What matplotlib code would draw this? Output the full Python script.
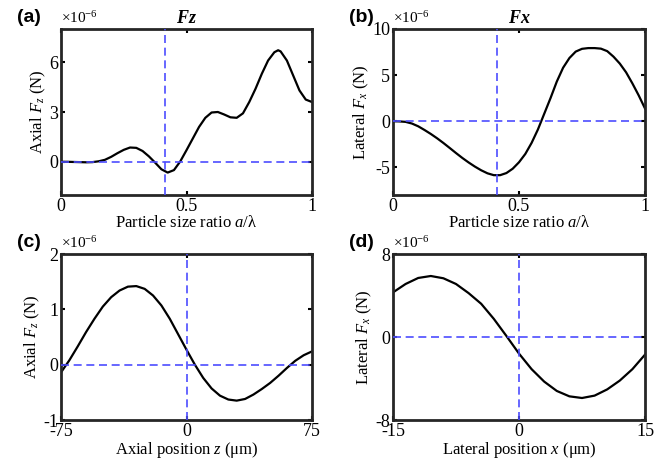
import matplotlib
matplotlib.use('Agg')
import matplotlib.pyplot as plt

plt.rcParams['font.family'] = ['Liberation Serif', 'DejaVu Serif']
plt.rcParams['mathtext.fontset'] = 'custom'
plt.rcParams['mathtext.rm'] = 'Liberation Serif'
plt.rcParams['mathtext.it'] = 'Liberation Serif:italic'
plt.rcParams['mathtext.bf'] = 'Liberation Serif:bold:italic'
plt.rcParams['axes.unicode_minus'] = False

# (a) axial force vs size ratio, units of 1e-6 N
a_ratio = [0, 0.025, 0.05, 0.075, 0.1, 0.125, 0.15, 0.175, 0.2, 0.225, 0.25, 0.275,
           0.3, 0.325, 0.35, 0.375, 0.4, 0.425, 0.45, 0.475, 0.5, 0.525, 0.55, 0.575,
           0.6, 0.625, 0.65, 0.675, 0.7, 0.725, 0.75, 0.775, 0.8, 0.825, 0.85, 0.865,
           0.875, 0.9, 0.925, 0.95, 0.975, 1.0]
a_fz = [0, 0, -0.01, -0.02, -0.03, -0.02, 0.03, 0.12, 0.3, 0.52, 0.72, 0.86,
        0.84, 0.65, 0.33, -0.05, -0.45, -0.65, -0.5, 0.02, 0.7, 1.4, 2.1, 2.65,
        2.97, 3.0, 2.85, 2.68, 2.65, 2.92, 3.6, 4.4, 5.3, 6.1, 6.6, 6.72,
        6.65, 6.1, 5.2, 4.3, 3.75, 3.6]

# (b) lateral force vs size ratio
b_ratio = [0, 0.025, 0.05, 0.075, 0.1, 0.125, 0.15, 0.175, 0.2, 0.225, 0.25, 0.275,
           0.3, 0.325, 0.35, 0.375, 0.4, 0.425, 0.45, 0.475, 0.5, 0.525, 0.55, 0.575,
           0.6, 0.625, 0.65, 0.675, 0.7, 0.725, 0.75, 0.775, 0.8, 0.825, 0.85, 0.875,
           0.9, 0.925, 0.95, 0.975, 1.0]
b_fx = [0, -0.02, -0.07, -0.25, -0.55, -0.95, -1.38, -1.85, -2.36, -2.9, -3.45, -3.98,
        -4.47, -4.92, -5.32, -5.65, -5.85, -5.85, -5.62, -5.15, -4.45, -3.55, -2.35, -0.9,
        0.8, 2.5, 4.3, 5.8, 6.85, 7.55, 7.85, 7.93, 7.93, 7.87, 7.6, 7.0,
        6.25, 5.3, 4.1, 2.8, 1.38]

# (c) axial force vs axial position (um)
c_z = [-75, -70, -65, -60, -55, -50, -45, -40, -35, -30, -25, -20, -15, -10, -5, 0,
       5, 10, 15, 20, 25, 30, 35, 40, 45, 50, 55, 60, 65, 70, 75]
c_fz = [-0.14, 0.08, 0.33, 0.59, 0.83, 1.05, 1.22, 1.34, 1.41, 1.42, 1.37, 1.25, 1.07,
        0.83, 0.55, 0.27, 0.0, -0.24, -0.43, -0.56, -0.63, -0.65, -0.62, -0.54, -0.44,
        -0.33, -0.2, -0.06, 0.07, 0.17, 0.24]

# (d) lateral force vs lateral position (um)
d_x = [-15, -13.5, -12, -10.5, -9, -7.5, -6, -4.5, -3, -1.5, 0,
       1.5, 3, 4.5, 6, 7.5, 9, 10.5, 12, 13.5, 15]
d_fx = [4.3, 5.11, 5.69, 5.88, 5.66, 5.11, 4.23, 3.2, 1.75, 0.1, -1.6,
        -3.1, -4.3, -5.2, -5.72, -5.88, -5.65, -5.05, -4.2, -3.1, -1.7]

marker_ratio = 0.413
blue = '#4d4dff'

fig = plt.figure(figsize=(6.67, 4.61), dpi=100)

W, H = 667, 461
def px_axes(x0, y0, x1, y1):
    return fig.add_axes([x0 / W, 1 - y1 / H, (x1 - x0) / W, (y1 - y0) / H])

ax_a = px_axes(61, 29, 312, 195)
ax_b = px_axes(393, 29, 645, 195)
ax_c = px_axes(61, 254, 312, 420)
ax_d = px_axes(393, 254, 645, 420)

panels = [
    (ax_a, a_ratio, a_fz, (0, 1), (-2, 8), [0, 0.5, 1], ['0', '0.5', '1'], [0, 3, 6],
     'Particle size ratio $a$/λ', 'Axial $F_z$ (N)', marker_ratio, '(a)', '$\\mathbf{Fz}$'),
    (ax_b, b_ratio, b_fx, (0, 1), (-8, 10), [0, 0.5, 1], ['0', '0.5', '1'], [-5, 0, 5, 10],
     'Particle size ratio $a$/λ', 'Lateral $F_x$ (N)', marker_ratio, '(b)', '$\\mathbf{Fx}$'),
    (ax_c, c_z, c_fz, (-75, 75), (-1, 2), [-75, 0, 75], ['-75', '0', '75'], [-1, 0, 1, 2],
     'Axial position $z$ (μm)', 'Axial $F_z$ (N)', 0, '(c)', None),
    (ax_d, d_x, d_fx, (-15, 15), (-8, 8), [-15, 0, 15], ['-15', '0', '15'], [-8, 0, 8],
     'Lateral position $x$ (μm)', 'Lateral $F_x$ (N)', 0, '(d)', None),
]

for ax, xs, ys, xl, yl, xt, xtl, yt, xlab, ylab, vx, tag, title in panels:
    ax.plot(xs, ys, color='black', lw=1.6, zorder=2)
    ax.axhline(0, color=blue, lw=1.2, dashes=(4.8, 2.8), zorder=3)
    ax.axvline(vx, color=blue, lw=1.2, dashes=(4.8, 2.8), zorder=3)
    ax.set_xlim(*xl)
    ax.set_ylim(*yl)
    ax.set_xticks(xt)
    ax.set_xticklabels(xtl)
    ax.set_yticks(yt)
    ax.tick_params(direction='in', length=3, width=1.5, top=True, right=True,
                   labelsize=13, pad=2)
    for s in ax.spines.values():
        s.set_linewidth(2)
        s.set_color('#262626')
    ax.set_xlabel(xlab, fontsize=12, labelpad=0)
    ax.set_ylabel(ylab, fontsize=12, labelpad=1)
    ax.text(0.0, 1.02, '×10$^{-6}$', transform=ax.transAxes, fontsize=11,
            ha='left', va='bottom')
    bb = ax.get_position()
    fig.text(bb.x0 - 44 / W, bb.y1 + 12 / H, tag, fontsize=14, fontweight='bold',
             family='Liberation Sans', ha='left', va='center')
    if title:
        ax.set_title(title, fontsize=13, pad=4)

fig.savefig('out.png', dpi=100)
